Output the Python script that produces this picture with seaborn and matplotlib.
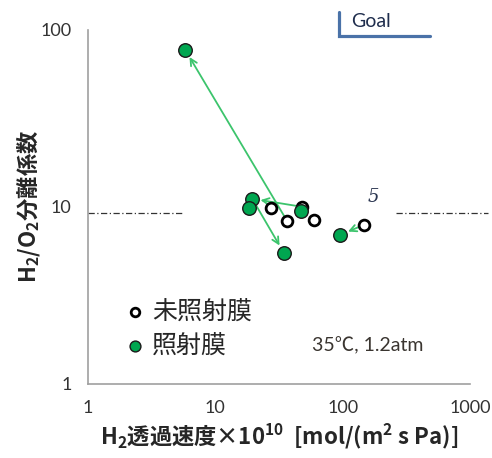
#!/usr/bin/env python3
import numpy as np
import pandas as pd
import seaborn as sns
import matplotlib.pyplot as plt
import matplotlib.ticker as mticker

######################################################################### data ##########################################################
# untreated membranes (open circles)
raw_perm = [27.4, 48.0, 36.7, 59.4, 147.0]
raw_sel = [9.8, 10.0, 8.3, 8.45, 7.9]
# irradiated membranes (green circles)
irr_perm = [5.8, 19.5, 18.3, 46.7, 34.5, 96.0]
irr_sel = [77.0, 11.1, 9.9, 9.5, 5.5, 6.95]
# arrows: (start perm, start sel) -> (end perm, end sel)
arrow_from = [(36.7, 8.3), (48.0, 10.0), (19.5, 11.1), (147.0, 7.9)]
arrow_to = [(5.8, 77.0), (19.5, 11.1), (34.5, 5.5), (96.0, 6.95)]
ref_sel = 9.25
x_ticks = [1, 10, 100, 1000]
y_ticks = [1, 10, 100]
labels = ['未照射膜', '照射膜']

######################################################################### plot ##########################################################
def main():
	sns.set_style('white')
	plt.rcParams['font.family'] = ['Noto Sans CJK JP', 'DejaVu Sans']
	plt.rcParams['mathtext.default'] = 'regular'

	fig = plt.figure(figsize=(4.92, 4.58), dpi=100)
	ax = fig.add_axes([0.179, 0.162, 0.776, 0.773])

	df_raw = pd.DataFrame({'perm': raw_perm, 'sel': raw_sel})
	df_irr = pd.DataFrame({'perm': irr_perm, 'sel': irr_sel})

	green = '#3cc46c'
	for (x0, y0), (x1, y1) in zip(arrow_from, arrow_to):
		ax.annotate('', xy=(x1, y1), xytext=(x0, y0),
			arrowprops=dict(arrowstyle='->', color=green, lw=1.3, shrinkA=2, shrinkB=6, mutation_scale=12), zorder=2)

	sns.scatterplot(data=df_raw, x='perm', y='sel', ax=ax, s=60, color='white', edgecolor='black', linewidth=2.0, zorder=3, label=labels[0])
	sns.scatterplot(data=df_irr, x='perm', y='sel', ax=ax, s=95, color='#00a650', edgecolor='#1a1a1a', linewidth=1.0, zorder=4, label=labels[1])

	ax.set_xscale('log')
	ax.set_yscale('log')
	ax.set_xlim(1, 1000)
	ax.set_ylim(1, 100)

	# reference dash-dot line
	ax.plot([1, 5.6], [ref_sel, ref_sel], ls='-.', color='#333333', lw=0.9, dashes=(5, 2, 1, 2), clip_on=False)
	ax.plot([265, 1380], [ref_sel, ref_sel], ls='-.', color='#333333', lw=0.9, dashes=(5, 2, 1, 2), clip_on=False)

	# goal marker
	ax.plot([93, 93, 490], [126, 92.5, 92.5], color='#4a72a8', lw=2.3, solid_joinstyle='miter', clip_on=False)
	ax.text(117, 111, 'Goal', fontsize=14, color='#1f2d4d', family=['Lato', 'DejaVu Sans'], va='center', ha='left')

	ax.text(158, 11.3, '5', fontsize=13, color='#2a3550', family='DejaVu Serif', style='italic', va='center', ha='left')
	ax.text(58, 1.64, '35℃, 1.2atm', fontsize=14, color='#3a3530', family=['Lato', 'Noto Sans CJK JP'], va='center', ha='left')

	ax.xaxis.set_major_locator(mticker.FixedLocator(x_ticks))
	ax.yaxis.set_major_locator(mticker.FixedLocator(y_ticks))
	ax.xaxis.set_major_formatter(mticker.FixedFormatter([str(t) for t in x_ticks]))
	ax.yaxis.set_major_formatter(mticker.FixedFormatter([str(t) for t in y_ticks]))
	ax.xaxis.set_minor_locator(mticker.LogLocator(base=10, subs=np.arange(2, 10)))
	ax.yaxis.set_minor_locator(mticker.LogLocator(base=10, subs=np.arange(2, 10)))
	ax.xaxis.set_minor_formatter(mticker.NullFormatter())
	ax.yaxis.set_minor_formatter(mticker.NullFormatter())
	ax.tick_params(which='both', direction='in', color='#a0a0a0', width=1)
	ax.tick_params(which='major', length=5, labelsize=13, labelcolor='#333333', pad=12)
	ax.tick_params(which='minor', length=4)
	for lab in ax.get_xticklabels() + ax.get_yticklabels():
		lab.set_family(['Lato', 'DejaVu Sans'])

	sns.despine(ax=ax)
	for sp in ['left', 'bottom']:
		ax.spines[sp].set_color('#a0a0a0')
		ax.spines[sp].set_linewidth(1.2)

	ax.set_xlabel('H$_2$透過速度×10$^{10}$  [mol/(m$^2$ s Pa)]', fontsize=16, fontweight='bold', labelpad=4)
	ax.set_ylabel('H$_2$/O$_2$分離係数', fontsize=16, fontweight='bold', labelpad=-1)

	leg = ax.legend(loc='lower left', bbox_to_anchor=(0.03, 0.008), frameon=False, fontsize=18,
		handlelength=1.0, handletextpad=0.2, labelspacing=0.3, markerscale=0.8)

	plt.savefig('out.png', dpi=100)
	plt.close()

if __name__ == '__main__':
	main()
